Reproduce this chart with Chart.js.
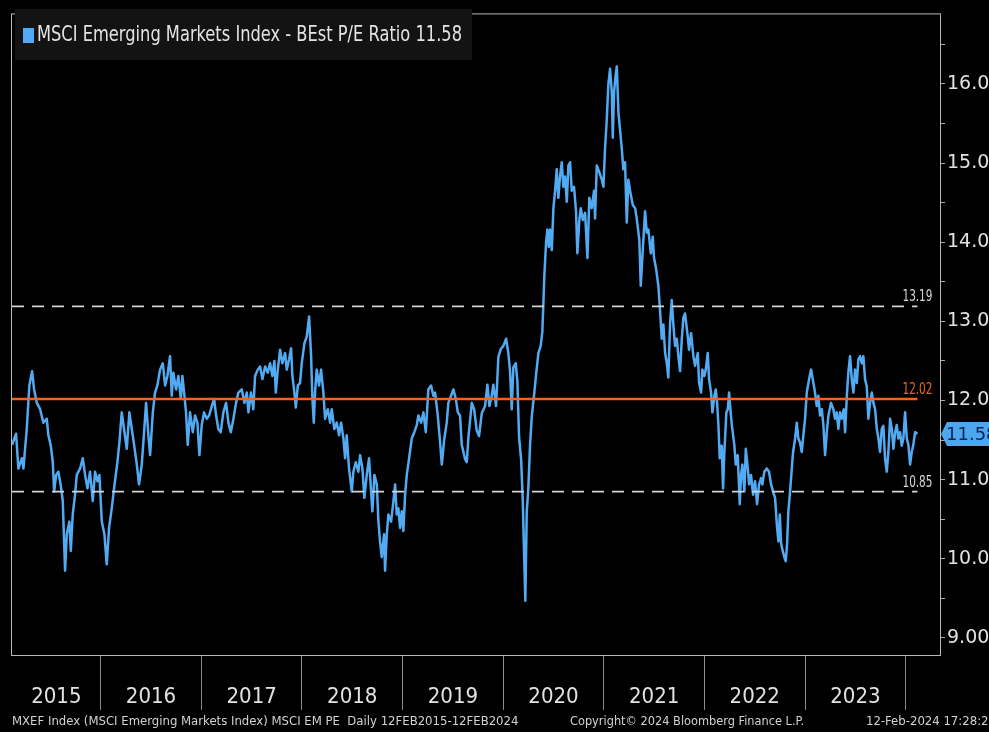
<!DOCTYPE html>
<html>
<head>
<meta charset="utf-8">
<title>MSCI EM BEst P/E</title>
<script src="https://cdn.jsdelivr.net/npm/chart.js@4.4.1/dist/chart.umd.min.js"></script>
<style>
  html, body { margin: 0; padding: 0; background: #000; }
  #wrap { width: 989px; height: 732px; }
</style>
</head>
<body>
<div id="wrap"><canvas id="peChart" width="989" height="732"></canvas></div>
<script>
// BEst P/E readings, [decimal year, value]
const pe2015 = [
  [2015.119,11.44],[2015.159,11.58],[2015.182,11.14],[2015.216,11.27],[2015.232,11.14],[2015.265,11.64],
  [2015.291,12.19],[2015.318,12.37],[2015.338,12.14],[2015.365,11.97],[2015.398,11.89],[2015.430,11.72],
  [2015.464,11.77],[2015.480,11.56],[2015.504,11.43],[2015.524,11.22],[2015.537,10.85],[2015.557,11.06],
  [2015.579,11.10],[2015.603,10.93],[2015.623,10.73],[2015.646,9.85],[2015.663,10.31],[2015.689,10.47],
  [2015.703,10.10],[2015.722,10.56],[2015.745,10.81],[2015.762,11.06],[2015.795,11.14],[2015.822,11.27],
  [2015.845,11.06],[2015.868,10.89],[2015.894,11.10],[2015.921,10.73],[2015.944,11.10],[2015.967,10.98],
  [2015.987,11.06]
];
const pe2016 = [
  [2016.011,10.47],[2016.037,10.31],[2016.060,9.93],[2016.083,10.39],[2016.110,10.64],[2016.133,10.89],
  [2016.166,11.22],[2016.186,11.47],[2016.209,11.85],[2016.232,11.64],[2016.259,11.39],[2016.285,11.85],
  [2016.309,11.64],[2016.332,11.44],[2016.359,11.19],[2016.381,10.94],[2016.408,11.19],[2016.431,11.60],
  [2016.451,11.97],[2016.474,11.56],[2016.491,11.31],[2016.518,11.85],[2016.540,12.10],[2016.563,12.19],
  [2016.590,12.39],[2016.617,12.47],[2016.640,12.19],[2016.663,12.31],[2016.689,12.56],[2016.706,12.06],
  [2016.722,12.35],[2016.749,12.14],[2016.772,12.31],[2016.796,12.02],[2016.812,12.31],[2016.829,12.10],
  [2016.848,11.85],[2016.865,11.44],[2016.888,11.85],[2016.915,11.60],[2016.938,11.81],[2016.961,11.72],
  [2016.981,11.31]
];
const pe2017 = [
  [2017.004,11.69],[2017.027,11.85],[2017.054,11.77],[2017.077,11.81],[2017.104,11.93],[2017.127,12.02],
  [2017.147,11.81],[2017.169,11.64],[2017.193,11.60],[2017.219,11.85],[2017.246,11.97],[2017.269,11.72],
  [2017.293,11.60],[2017.319,11.77],[2017.345,11.97],[2017.368,12.10],[2017.402,12.14],[2017.428,11.97],
  [2017.452,12.10],[2017.468,11.85],[2017.494,12.10],[2017.517,11.89],[2017.534,12.31],[2017.561,12.39],
  [2017.584,12.43],[2017.607,12.27],[2017.634,12.43],[2017.660,12.35],[2017.683,12.47],[2017.706,12.31],
  [2017.726,12.50],[2017.740,12.10],[2017.760,12.39],[2017.783,12.64],[2017.805,12.47],[2017.832,12.60],
  [2017.849,12.39],[2017.872,12.52],[2017.892,12.66],[2017.905,12.31],[2017.925,12.10],[2017.939,11.91],
  [2017.959,12.19],[2017.981,12.22],[2017.998,12.47]
];
const pe2018 = [
  [2018.024,12.72],[2018.048,12.81],[2018.071,13.06],[2018.091,12.56],[2018.104,12.02],[2018.118,11.72],
  [2018.130,12.10],[2018.147,12.39],[2018.170,12.19],[2018.190,12.39],[2018.213,12.10],[2018.230,11.77],
  [2018.257,11.89],[2018.280,11.72],[2018.296,11.89],[2018.322,11.64],[2018.346,11.72],[2018.369,11.56],
  [2018.389,11.72],[2018.412,11.52],[2018.429,11.27],[2018.445,11.56],[2018.468,11.14],[2018.495,10.85],
  [2018.511,11.10],[2018.535,11.22],[2018.561,11.10],[2018.578,11.31],[2018.601,11.14],[2018.620,10.77],
  [2018.644,11.06],[2018.667,11.27],[2018.687,10.85],[2018.700,10.60],[2018.720,11.06],[2018.744,10.94],
  [2018.760,10.47],[2018.776,10.22],[2018.793,10.02],[2018.816,10.31],[2018.826,9.85],[2018.843,10.31],
  [2018.859,10.56],[2018.886,10.47],[2018.909,10.73],[2018.926,10.94],[2018.942,10.56],[2018.958,10.64],
  [2018.975,10.39],[2018.992,10.60]
];
const pe2019 = [
  [2019.008,10.35],[2019.025,10.81],[2019.042,11.06],[2019.065,11.27],[2019.091,11.52],[2019.117,11.60],
  [2019.141,11.69],[2019.157,11.81],[2019.184,11.72],[2019.207,11.85],[2019.231,11.60],[2019.256,12.14],
  [2019.283,12.19],[2019.306,12.06],[2019.323,12.10],[2019.350,11.81],[2019.373,11.47],[2019.390,11.19],
  [2019.415,11.52],[2019.439,11.72],[2019.455,11.97],[2019.482,12.06],[2019.505,12.14],[2019.529,12.02],
  [2019.549,11.85],[2019.571,11.81],[2019.588,11.44],[2019.621,11.26],[2019.638,11.22],[2019.654,11.53],
  [2019.688,11.97],[2019.711,11.89],[2019.737,11.62],[2019.760,11.55],[2019.787,11.84],[2019.820,11.93],
  [2019.843,12.20],[2019.863,11.93],[2019.886,12.06],[2019.902,12.20],[2019.929,11.93],[2019.952,12.55],
  [2019.976,12.65]
];
const pe2020 = [
  [2020.002,12.69],[2020.029,12.78],[2020.051,12.60],[2020.068,12.37],[2020.085,11.89],[2020.101,12.42],
  [2020.125,12.47],[2020.141,12.24],[2020.158,11.53],[2020.178,11.26],[2020.195,10.72],[2020.207,10.10],
  [2020.220,9.47],[2020.234,10.59],[2020.250,10.90],[2020.267,11.44],[2020.284,11.80],[2020.307,12.07],
  [2020.327,12.33],[2020.350,12.60],[2020.373,12.69],[2020.389,12.87],[2020.399,13.22],[2020.409,13.58],
  [2020.426,13.99],[2020.439,14.16],[2020.453,13.94],[2020.466,14.16],[2020.483,13.90],[2020.499,14.43],
  [2020.516,14.65],[2020.532,14.92],[2020.548,14.56],[2020.565,14.83],[2020.582,15.01],[2020.598,14.70],
  [2020.615,14.83],[2020.632,14.51],[2020.648,14.97],[2020.665,15.01],[2020.681,14.65],[2020.704,14.70],
  [2020.724,14.39],[2020.737,13.86],[2020.757,14.28],[2020.771,14.43],[2020.791,14.28],[2020.814,14.37],
  [2020.837,13.80],[2020.856,14.56],[2020.880,14.43],[2020.903,14.65],[2020.913,14.30],[2020.930,14.97],
  [2020.956,14.88],[2020.980,14.79],[2020.996,14.70]
];
const pe2021 = [
  [2021.012,15.18],[2021.029,15.54],[2021.045,15.99],[2021.062,16.19],[2021.079,15.90],[2021.089,15.32],
  [2021.102,15.90],[2021.115,16.08],[2021.129,16.22],[2021.145,15.64],[2021.162,15.41],[2021.178,15.19],
  [2021.194,14.92],[2021.211,15.01],[2021.228,14.25],[2021.244,14.79],[2021.261,14.65],[2021.288,14.47],
  [2021.311,14.43],[2021.327,14.30],[2021.353,14.03],[2021.367,13.45],[2021.387,13.90],[2021.410,14.39],
  [2021.427,14.12],[2021.443,14.16],[2021.467,13.86],[2021.486,14.07],[2021.499,13.80],[2021.519,13.67],
  [2021.542,13.45],[2021.559,13.13],[2021.576,12.78],[2021.592,12.96],[2021.609,12.60],[2021.626,12.47],
  [2021.641,12.29],[2021.658,12.96],[2021.675,13.27],[2021.691,12.96],[2021.708,12.69],[2021.725,12.78],
  [2021.741,12.56],[2021.758,12.37],[2021.775,12.78],[2021.791,13.05],[2021.807,13.10],[2021.834,12.81],
  [2021.847,12.64],[2021.867,12.85],[2021.890,12.56],[2021.907,12.44],[2021.934,12.60],[2021.947,12.22],
  [2021.967,12.10],[2021.979,12.39],[2021.999,12.31]
];
const pe2022 = [
  [2022.013,12.39],[2022.033,12.60],[2022.046,12.27],[2022.066,12.10],[2022.079,11.85],[2022.099,12.06],
  [2022.113,12.14],[2022.126,11.97],[2022.139,11.69],[2022.152,11.27],[2022.172,11.43],[2022.185,10.89],
  [2022.198,11.35],[2022.218,11.85],[2022.232,11.89],[2022.245,12.10],[2022.258,11.89],[2022.272,11.69],
  [2022.297,11.44],[2022.311,11.19],[2022.331,11.31],[2022.351,10.69],[2022.364,11.06],[2022.377,11.19],
  [2022.397,10.85],[2022.411,11.39],[2022.431,11.14],[2022.444,10.94],[2022.463,11.06],[2022.483,10.81],
  [2022.503,10.98],[2022.523,10.69],[2022.543,10.94],[2022.563,11.02],[2022.576,10.94],[2022.595,11.10],
  [2022.619,11.14],[2022.642,11.10],[2022.662,10.94],[2022.682,10.85],[2022.702,10.77],[2022.719,10.44],
  [2022.735,10.22],[2022.749,10.56],[2022.762,10.19],[2022.778,10.10],[2022.794,10.02],[2022.808,9.97],
  [2022.821,10.18],[2022.834,10.60],[2022.851,10.85],[2022.868,11.14],[2022.881,11.35],[2022.901,11.52],
  [2022.918,11.72],[2022.933,11.52],[2022.950,11.47],[2022.967,11.35],[2022.983,11.56]
];
const pe2023 = [
  [2023.000,11.77],[2023.017,12.10],[2023.040,12.27],[2023.060,12.39],[2023.083,12.22],[2023.099,12.10],
  [2023.116,11.93],[2023.132,12.06],[2023.149,11.81],[2023.166,11.89],[2023.182,11.69],[2023.199,11.31],
  [2023.216,11.60],[2023.232,11.81],[2023.258,11.97],[2023.281,11.89],[2023.298,11.77],[2023.315,11.85],
  [2023.331,11.64],[2023.348,11.85],[2023.365,11.77],[2023.385,11.89],[2023.398,11.60],[2023.417,12.10],
  [2023.430,12.35],[2023.447,12.56],[2023.464,12.27],[2023.480,12.10],[2023.497,12.39],[2023.514,12.22],
  [2023.530,12.52],[2023.547,12.56],[2023.564,12.47],[2023.579,12.56],[2023.596,12.27],[2023.613,12.18],
  [2023.629,11.77],[2023.646,11.97],[2023.663,12.10],[2023.679,11.97],[2023.696,11.89],[2023.713,11.64],
  [2023.729,11.52],[2023.745,11.35],[2023.762,11.64],[2023.778,11.68],[2023.795,11.27],[2023.812,11.10],
  [2023.828,11.35],[2023.845,11.77],[2023.862,11.64],[2023.878,11.39],[2023.895,11.60],[2023.911,11.69],
  [2023.927,11.52],[2023.944,11.60],[2023.961,11.43],[2023.977,11.52],[2023.994,11.85]
];
const pe2024 = [
  [2024.011,11.52],[2024.027,11.44],[2024.044,11.19],[2024.060,11.35],[2024.076,11.44],[2024.093,11.60],
  [2024.117,11.58]
];

const avgPE = 12.02;
const plusSD = 13.19;
const minusSD = 10.85;
const lastPE = 11.58;

const yearLabels = ['2015', '2016', '2017', '2018', '2019', '2020', '2021', '2022', '2023'];
const yearBounds = [2016, 2017, 2018, 2019, 2020, 2021, 2022, 2023, 2024];
const yTickValues = [9, 9.5, 10, 10.5, 11, 11.5, 12, 12.5, 13, 13.5, 14, 14.5, 15, 15.5, 16, 16.5];

const seriesName = 'MSCI Emerging Markets Index - BEst P/E Ratio';
const footLeft = 'MXEF Index (MSCI Emerging Markets Index) MSCI EM PE  Daily 12FEB2015-12FEB2024';
const footMid = 'Copyright\u00A9 2024 Bloomberg Finance L.P.';
const footRight = '12-Feb-2024 17:28:25';

const xMin = 2015.1185, xMax = 2024.341;
const yMin = 8.785, yMax = 16.89;

const allPE = [...pe2015, ...pe2016, ...pe2017, ...pe2018, ...pe2019,
               ...pe2020, ...pe2021, ...pe2022, ...pe2023, ...pe2024];
const startDate = allPE[0][0];
const endDate = allPE[allPE.length - 1][0];
// label spots: middle of the visible part of each year
const yearMids = yearLabels.map(y => (Math.max(+y, xMin) + (+y + 1)) / 2);
const xTickValues = [...yearMids, ...yearBounds].sort((a, b) => a - b);

const NARROW = '"Liberation Sans Narrow", "DejaVu Sans Condensed", "Liberation Sans", sans-serif';
const BLUE = '#52aaf2';
const ORANGE = '#f0651c';

function flatLine(v) {
  return [{ x: startDate, y: v }, { x: endDate, y: v }];
}

const bbgDecor = {
  id: 'bbgDecor',
  beforeDraw(chart) {
    const ctx = chart.ctx;
    ctx.save();
    ctx.fillStyle = '#000';
    ctx.fillRect(0, 0, chart.width, chart.height);
    ctx.restore();
  },
  afterDraw(chart) {
    const { ctx, chartArea: a, scales } = chart;
    const xs = scales.x, ys = scales.y;
    ctx.save();

    // plot frame
    ctx.strokeStyle = '#b8b8b8';
    ctx.lineWidth = 1;
    ctx.strokeRect(a.left - 0.5, a.top + 0.5, a.right - a.left + 1, a.bottom - a.top);

    // legend box
    ctx.fillStyle = '#131313';
    ctx.fillRect(15, 9, 457, 51);
    ctx.fillStyle = BLUE;
    ctx.fillRect(23, 28, 11, 15);
    ctx.fillStyle = '#e4e4e4';
    ctx.font = '21px ' + NARROW;
    ctx.textBaseline = 'middle';
    ctx.textAlign = 'left';
    ctx.fillText(seriesName + ' ' + lastPE.toFixed(2), 37, 36, 425);

    // level labels at the right end of the reference lines
    const xe = xs.getPixelForValue(endDate) + 15;
    ctx.font = '16px ' + NARROW;
    ctx.textAlign = 'right';
    ctx.textBaseline = 'alphabetic';
    [[plusSD, '#d8d8d8'], [avgPE, ORANGE], [minusSD, '#d8d8d8']].forEach(([v, c]) => {
      ctx.fillStyle = c;
      ctx.fillText(v.toFixed(2), xe, ys.getPixelForValue(v) - 5, 30);
    });

    // last value tag on the axis
    const yc = Math.round(ys.getPixelForValue(lastPE));
    const xl = a.right + 1;
    ctx.fillStyle = '#4ea6ee';
    ctx.beginPath();
    ctx.moveTo(xl, yc);
    ctx.lineTo(xl + 6, yc - 12);
    ctx.lineTo(chart.width, yc - 12);
    ctx.lineTo(chart.width, yc + 12);
    ctx.lineTo(xl + 6, yc + 12);
    ctx.closePath();
    ctx.fill();
    ctx.fillStyle = '#0c2550';
    ctx.font = '18px "DejaVu Sans"';
    ctx.textAlign = 'left';
    ctx.textBaseline = 'middle';
    ctx.fillText(lastPE.toFixed(2), xl + 5, yc + 1);

    // footer
    ctx.fillStyle = '#d2d2d2';
    ctx.font = '13px ' + NARROW;
    ctx.fillText(footLeft, 12, 722, 523);
    ctx.fillText(footMid, 570, 722, 234);
    ctx.fillText(footRight, 866, 722, 131);
    ctx.restore();
  }
};

new Chart(document.getElementById('peChart'), {
  type: 'line',
  data: {
    datasets: [
      { label: 'Average', data: flatLine(avgPE), borderColor: ORANGE, borderWidth: 2.5, order: 0 },
      { label: '+1 SD', data: flatLine(plusSD), borderColor: '#d4d4d4', borderWidth: 1.8, borderDash: [12, 8], order: 0 },
      { label: '-1 SD', data: flatLine(minusSD), borderColor: '#d4d4d4', borderWidth: 1.8, borderDash: [12, 8], order: 0 },
      {
        label: seriesName,
        data: allPE.map(([t, v]) => ({ x: t, y: v })),
        borderColor: BLUE,
        borderWidth: 2.5,
        borderJoinStyle: 'round',
        order: 1
      }
    ]
  },
  options: {
    responsive: false,
    devicePixelRatio: 1,
    animation: false,
    events: [],
    elements: { point: { radius: 0 }, line: { tension: 0 } },
    layout: { padding: { left: 12, top: 6, right: 0, bottom: 0 } },
    plugins: { legend: { display: false }, tooltip: { enabled: false } },
    scales: {
      x: {
        type: 'linear', position: 'bottom',
        min: xMin, max: xMax,
        afterBuildTicks: s => { s.ticks = xTickValues.map(v => ({ value: v })); },
        afterFit: s => { s.height = 77; },
        ticks: {
          autoSkip: false, maxRotation: 0, minRotation: 0,
          padding: -26, color: '#e2e2e2',
          font: { family: NARROW, size: 22 },
          callback: v => { const i = yearMids.indexOf(v); return i >= 0 ? yearLabels[i] : ''; }
        },
        grid: {
          drawOnChartArea: false, drawTicks: true, tickLength: 55, tickWidth: 1,
          tickColor: c => (c.tick && yearBounds.includes(c.tick.value)) ? '#8a8a8a' : 'rgba(0,0,0,0)'
        },
        border: { display: false }
      },
      y: {
        type: 'linear', position: 'right',
        min: yMin, max: yMax,
        afterBuildTicks: s => { s.ticks = yTickValues.map(v => ({ value: v })); },
        afterFit: s => { s.width = 49; },
        ticks: {
          autoSkip: false, padding: 2, color: '#e2e2e2',
          font: { family: 'DejaVu Sans', size: 19 },
          callback: v => Number.isInteger(v) ? v.toFixed(2) : ''
        },
        grid: { drawOnChartArea: false, drawTicks: true, tickLength: 5, color: '#a8a8a8' },
        border: { display: false }
      }
    }
  },
  plugins: [bbgDecor]
});
</script>
</body>
</html>
